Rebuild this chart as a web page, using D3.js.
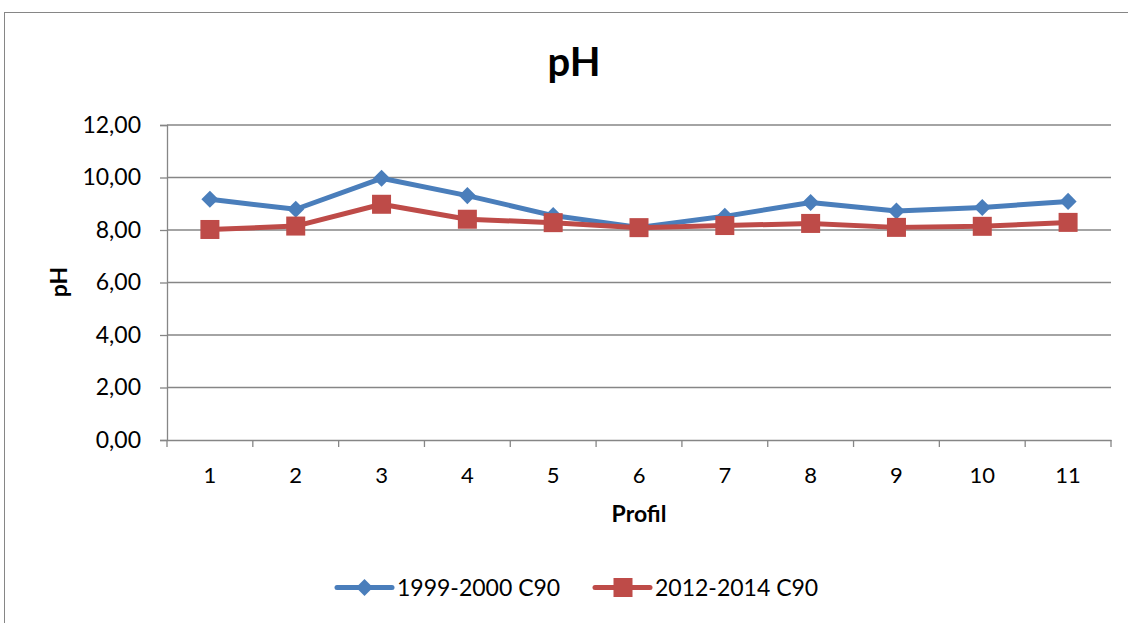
<!DOCTYPE html>
<html><head><meta charset="utf-8">
<script src="https://cdn.jsdelivr.net/npm/d3@7"></script>
<style>body{margin:0;background:#fff;}svg{display:block;}</style>
</head><body>
<svg id="c" width="1128" height="623"></svg>
<script>
const categories = ["1","2","3","4","5","6","7","8","9","10","11"];
const series1999 = [9.17, 8.79, 9.97, 9.31, 8.55, 8.10, 8.52, 9.05, 8.72, 8.86, 9.09];
const series2012 = [8.02, 8.15, 8.98, 8.41, 8.28, 8.09, 8.17, 8.25, 8.10, 8.14, 8.29];
const yTicks = [0, 2, 4, 6, 8, 10, 12];
const seriesNames = ["1999-2000 C90", "2012-2014 C90"];

const svg = d3.select("#c");
const font = "Lato, 'Open Sans', sans-serif";
const gray = "#868686";
const colors = ["#4A7EBB", "#BE4B48"];

svg.append("rect").attr("x", 4.5).attr("y", 12.5).attr("width", 1140).attr("height", 640)
  .attr("fill", "#fff").attr("stroke", gray).attr("stroke-width", 1);

const x = d3.scaleBand().domain(categories).range([167, 1111]);
const y = d3.scaleLinear().domain([0, 12]).range([440, 125]);

// gridlines
svg.append("g").selectAll("line").data(yTicks.filter(d => d > 0)).join("line")
  .attr("x1", 167).attr("x2", 1111).attr("y1", d => y(d)).attr("y2", d => y(d))
  .attr("stroke", gray).attr("stroke-width", 1.3);

// y axis
const fmt = d => d3.format(".2f")(d).replace(".", ",");
const yAxis = svg.append("g").attr("transform", "translate(167,0)")
  .call(d3.axisLeft(y).tickValues(yTicks).tickFormat(fmt).tickSize(7).tickPadding(19));
yAxis.select(".domain").attr("stroke", gray).attr("stroke-width", 1.3);
yAxis.selectAll(".tick line").attr("stroke", gray).attr("stroke-width", 1.3);
yAxis.selectAll("text").attr("font-family", font).attr("font-size", 23).attr("fill", "#000");

// x axis
const xAxis = svg.append("g").attr("transform", "translate(0,440)")
  .call(d3.axisBottom(x).tickSize(0).tickPadding(27));
xAxis.select(".domain").attr("stroke", gray).attr("stroke-width", 1.3);
xAxis.selectAll("text").attr("font-family", font).attr("font-size", 22).attr("fill", "#000");
const bounds = categories.map(c => x(c)).concat([x.range()[1]]);
svg.append("g").selectAll("line").data(bounds).join("line")
  .attr("x1", d => d).attr("x2", d => d).attr("y1", 440).attr("y2", 447)
  .attr("stroke", gray).attr("stroke-width", 1.3);

const cx = c => x(c) + x.bandwidth() / 2;

// lines
const line = d3.line().x((d, i) => cx(categories[i])).y(d => y(d));
[series1999, series2012].forEach((s, k) => {
  svg.append("path").datum(s).attr("d", line).attr("fill", "none")
    .attr("stroke", colors[k]).attr("stroke-width", 5).attr("stroke-linejoin", "round");
});
// markers
const diamond = d3.symbol().type(d3.symbolDiamond2).size(185);
svg.append("g").selectAll("path").data(series1999).join("path")
  .attr("d", diamond)
  .attr("transform", (d, i) => `translate(${cx(categories[i])},${y(d)})`)
  .attr("fill", colors[0]);
svg.append("g").selectAll("rect").data(series2012).join("rect")
  .attr("x", (d, i) => cx(categories[i]) - 9.5).attr("y", d => y(d) - 9.5)
  .attr("width", 19).attr("height", 19).attr("fill", colors[1]);

// titles
svg.append("text").attr("x", 574).attr("y", 76).attr("text-anchor", "middle")
  .attr("font-family", font).attr("font-weight", "bold").attr("font-size", 40).text("pH");
svg.append("text").attr("transform", "translate(67,282) rotate(-90)").attr("text-anchor", "middle")
  .attr("font-family", font).attr("font-weight", "bold").attr("font-size", 23).text("pH");
svg.append("text").attr("x", 639).attr("y", 522).attr("text-anchor", "middle")
  .attr("font-family", font).attr("font-weight", "bold").attr("font-size", 23).text("Profil");

// legend
const leg = [{x: 337, k: 0}, {x: 595, k: 1}];
leg.forEach(l => {
  const g = svg.append("g");
  g.append("line").attr("x1", l.x).attr("x2", l.x + 55).attr("y1", 587.5).attr("y2", 587.5)
    .attr("stroke", colors[l.k]).attr("stroke-width", 5).attr("stroke-linecap", "round");
  if (l.k === 0) {
    g.append("path").attr("d", diamond).attr("transform", `translate(${l.x + 27.5},587.5)`).attr("fill", colors[0]);
  } else {
    g.append("rect").attr("x", l.x + 18.5).attr("y", 578).attr("width", 19).attr("height", 19).attr("fill", colors[1]);
  }
  g.append("text").attr("x", l.x + 60).attr("y", 596).attr("font-family", font).attr("font-size", 23)
    .text(seriesNames[l.k]);
});
</script>
</body></html>
